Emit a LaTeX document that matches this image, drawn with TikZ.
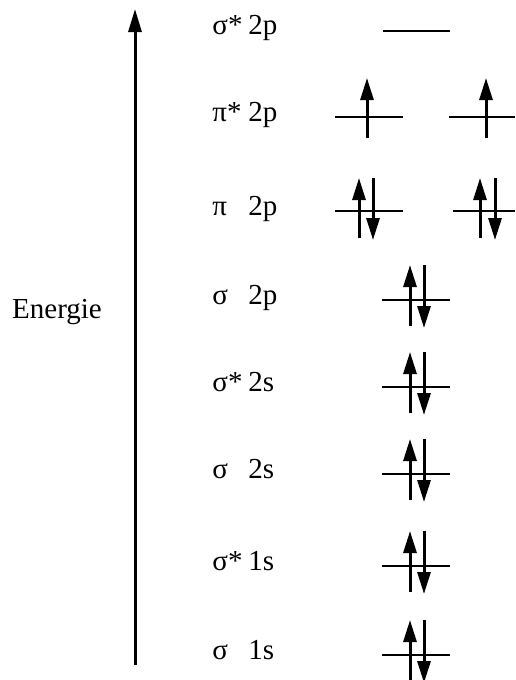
\documentclass[tikz,border=0pt]{standalone}
\usepackage{fontspec}
\setmainfont{Liberation Serif}
\usetikzlibrary{arrows.meta}
\tikzset{
  lbl/.style={anchor=mid west,inner sep=0pt,font=\fontsize{14.5}{16}\selectfont},
  level/.style={line width=1pt},
  spin/.style={line width=1.5pt,-{Triangle[length=11pt,width=6.5pt]}},
  axis/.style={line width=1.5pt,-{Triangle[length=11.5pt,width=6.5pt]}}
}
\newcommand{\orb}[2]{\makebox[18pt][l]{#1}#2}

\begin{document}
\begin{tikzpicture}[x=0.5pt,y=-0.5pt]
    \useasboundingbox (0,0) rectangle (515,680);
    % energy axis
    \coordinate (a0) at (135,665);
    \coordinate (a1) at (135,9);
    \draw[axis] (a0)--(a1);
    \node[lbl,anchor=center] (en) at (57,312) {Energie};
    % labels
    \node[lbl] (l1) at (212,30) {\orb{σ*}{2p}};
    \node[lbl] (l2) at (212,117) {\orb{π*}{2p}};
    \node[lbl] (l3) at (212,211) {\orb{π}{2p}};
    \node[lbl] (l4) at (212,300) {\orb{σ}{2p}};
    \node[lbl] (l5) at (212,387) {\orb{σ*}{2s}};
    \node[lbl] (l6) at (212,474) {\orb{σ}{2s}};
    \node[lbl] (l7) at (212,566) {\orb{σ*}{1s}};
    \node[lbl] (l8) at (212,655) {\orb{σ}{1s}};
    % sigma* 2p (empty)
    \draw[level] (383,31)--(450,31);
    % pi* 2p, one electron each
    \draw[level] (335,117)--(403,117);
    \draw[level] (449,117)--(515,117);
    \draw[spin] (367,138)--(367,78);
    \draw[spin] (486,138)--(486,78);
    % pi 2p, paired
    \draw[level] (335,211)--(403,211);
    \draw[level] (453,211)--(515,211);
    \draw[spin] (359,238)--(359,178);
    \draw[spin] (373,178)--(373,240);
    \draw[spin] (480,238)--(480,178);
    \draw[spin] (495,178)--(495,240);
    % sigma levels, paired
    \foreach \y in {300,387,474,566,655}{
      \draw[level] (382,\y)--(450,\y);
      \draw[spin] (410,\y+26)--(410,\y-35);
      \draw[spin] (424,\y-35)--(424,\y+28);
    }
  \end{tikzpicture}
\end{document}
